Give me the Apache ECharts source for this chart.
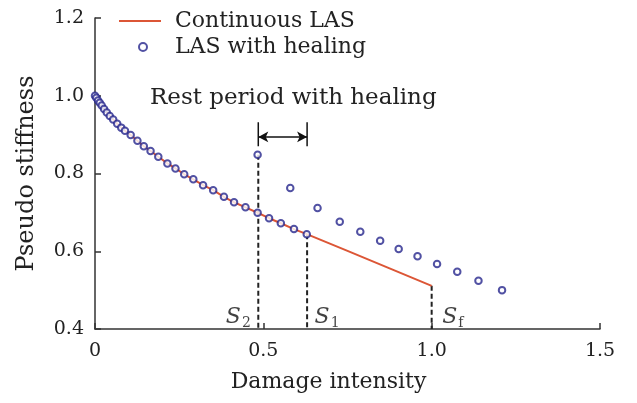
<!DOCTYPE html>
<html><head><meta charset="utf-8">
<script src="https://cdn.jsdelivr.net/npm/echarts@6/dist/echarts.min.js"></script>
<style>html,body{margin:0;padding:0;background:#fff}#c{width:637px;height:403px}</style>
</head><body><div id="c"></div>
<script>
// Continuous LAS curve (damage intensity, pseudo stiffness)
const continuousX = [0, 0.004, 0.009, 0.014, 0.02, 0.027, 0.035, 0.044, 0.054, 0.066, 0.078, 0.089, 0.106, 0.126, 0.145, 0.165, 0.188, 0.215, 0.239, 0.265, 0.292, 0.321, 0.351, 0.383, 0.413, 0.447, 0.483, 0.517, 0.552, 0.591, 0.629, 0.75, 0.875, 1.0];
const continuousY = [1.0, 0.995, 0.988, 0.982, 0.975, 0.966, 0.957, 0.948, 0.939, 0.928, 0.918, 0.910, 0.899, 0.884, 0.870, 0.858, 0.843, 0.826, 0.813, 0.798, 0.785, 0.770, 0.757, 0.740, 0.726, 0.713, 0.699, 0.685, 0.672, 0.657, 0.644, 0.601, 0.556, 0.511];
// LAS with healing points
const healingX = [0, 0.004, 0.009, 0.014, 0.02, 0.027, 0.035, 0.044, 0.054, 0.066, 0.078, 0.089, 0.106, 0.126, 0.145, 0.165, 0.188, 0.215, 0.239, 0.265, 0.292, 0.321, 0.351, 0.383, 0.413, 0.447, 0.483, 0.517, 0.552, 0.591, 0.629, 0.483, 0.580, 0.661, 0.727, 0.788, 0.847, 0.902, 0.958, 1.016, 1.076, 1.139, 1.209];
const healingY = [1.0, 0.995, 0.988, 0.982, 0.975, 0.966, 0.957, 0.948, 0.939, 0.928, 0.918, 0.910, 0.899, 0.884, 0.870, 0.858, 0.843, 0.826, 0.813, 0.798, 0.785, 0.770, 0.757, 0.740, 0.726, 0.713, 0.699, 0.685, 0.672, 0.657, 0.644, 0.848, 0.763, 0.711, 0.676, 0.650, 0.627, 0.606, 0.587, 0.567, 0.547, 0.524, 0.500];
// Marker lines S2, S1, Sf
const markerNames = ['2', '1', 'f'];
const markerX = [0.485, 0.630, 1.0];
const markerTopY = [0.848, 0.644, 0.511];
const markerLabelY = 0.43;
const restStart = 0.485, restEnd = 0.630, restArrowY = 0.894, restBarTop = 0.932, restBarBottom = 0.870;
const xTicks = [0, 0.5, 1.0, 1.5];
const yTicks = [0.4, 0.6, 0.8, 1.0, 1.2];

const FONT = 'DejaVu Serif';
const BLUE = '#26268c';
const RED = '#dc5636';
const chart = echarts.init(document.getElementById('c'));

const series = [
  {
    name: 'Continuous LAS', type: 'line', symbol: 'none', z: 2,
    data: continuousX.map((x, i) => [x, continuousY[i]]),
    lineStyle: { color: RED, width: 2 }, itemStyle: { color: RED }
  },
  {
    name: 'LAS with healing', type: 'scatter', z: 5,
    symbol: 'emptyCircle', symbolSize: 6.5,
    data: healingX.map((x, i) => [x, healingY[i]]),
    itemStyle: { color: BLUE, borderColor: BLUE, borderWidth: 2.6 }
  }
];
markerX.forEach((x, i) => {
  series.push({
    type: 'line', symbol: 'none', z: 1, silent: true,
    data: [[x, markerTopY[i]], [x, 0.4]],
    lineStyle: { color: '#222', width: 2, type: [5, 3] }
  });
});
// rest period bracket
series.push({
  type: 'line', symbol: 'none', silent: true, z: 3,
  data: [[restStart, restBarTop], [restStart, restBarBottom]],
  lineStyle: { color: '#111', width: 1.5 }
});
series.push({
  type: 'line', symbol: 'none', silent: true, z: 3,
  data: [[restEnd, restBarTop], [restEnd, restBarBottom]],
  lineStyle: { color: '#111', width: 1.5 }
});
series.push({
  type: 'line', symbol: 'none', silent: true, z: 3, data: [],
  markLine: {
    silent: true, symbol: ['arrow', 'arrow'], symbolSize: [8, 10], label: { show: false },
    lineStyle: { color: '#111', width: 1.5, type: 'solid' },
    data: [[{ coord: [restStart, restArrowY] }, { coord: [restEnd, restArrowY] }]]
  }
});
// S labels
const richS = {
  s: { fontFamily: FONT, fontStyle: 'italic', fontSize: 22, color: '#111', lineHeight: 26 },
  sub: { fontFamily: FONT, fontSize: 14, color: '#111', verticalAlign: 'bottom', lineHeight: 26, padding: [10, 0, 0, 1] }
};
series.push({
  type: 'scatter', symbolSize: 1, silent: true, z: 6,
  itemStyle: { color: 'rgba(0,0,0,0)' },
  data: markerX.map((x, i) => ({
    value: [x, markerLabelY], name: markerNames[i],
    label: { position: i === 0 ? 'left' : 'right', distance: i === 2 ? 10 : 7 }
  })),
  label: {
    show: true,
    formatter: p => '{s|S}{sub|' + p.name + '}',
    rich: richS
  }
});

chart.setOption({
  backgroundColor: '#fff',
  animation: false,
  grid: { left: 95, right: 37, top: 18, bottom: 74 },
  legend: [
    {
      left: 113, top: 5, itemWidth: 42, itemHeight: 2, orient: 'vertical',
      data: ['Continuous LAS'],
      textStyle: { fontFamily: FONT, fontSize: 22, color: '#222', padding: [0, 0, 0, 9] }
    },
    {
      left: 133, top: 31, itemWidth: 8, itemHeight: 8, orient: 'vertical',
      data: [{ name: 'LAS with healing', icon: 'emptyCircle' }],
      itemStyle: { color: BLUE, borderColor: BLUE, borderWidth: 2.6 },
      textStyle: { fontFamily: FONT, fontSize: 22, color: '#222', padding: [0, 0, 0, 23] }
    }
  ],
  xAxis: {
    type: 'value', min: xTicks[0], max: xTicks[xTicks.length - 1], interval: 0.5,
    name: 'Damage intensity', nameLocation: 'middle', nameGap: 42,
    nameTextStyle: { fontFamily: FONT, fontSize: 22, color: '#222', padding: [0, 38, 0, 0] },
    axisLine: { lineStyle: { color: '#333', width: 1.5 } },
    axisTick: { inside: true, length: 6, lineStyle: { color: '#333', width: 1.5 } },
    axisLabel: { fontFamily: FONT, fontSize: 19, color: '#222', margin: 13,
      formatter: v => v === 0 ? '0' : v.toFixed(1) },
    splitLine: { show: false }
  },
  yAxis: {
    type: 'value', min: yTicks[0], max: yTicks[yTicks.length - 1], interval: 0.2,
    name: 'Pseudo stiffness', nameLocation: 'middle', nameGap: 56,
    nameTextStyle: { fontFamily: FONT, fontSize: 24, color: '#222' },
    axisLine: { show: true, lineStyle: { color: '#333', width: 1.5 } },
    axisTick: { show: true, inside: true, length: 6, lineStyle: { color: '#333', width: 1.5 } },
    axisLabel: { fontFamily: FONT, fontSize: 19, color: '#222', margin: 11,
      formatter: v => v.toFixed(1) },
    splitLine: { show: false }
  },
  graphic: [
    { type: 'text', left: 150, top: 87,
      style: { text: 'Rest period with healing', fontFamily: FONT, fontSize: 23, fill: '#222' } }
  ],
  series: series
});
</script></body></html>
